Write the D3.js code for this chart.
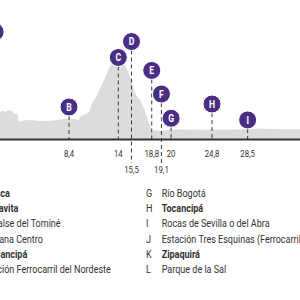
<!DOCTYPE html>
<html>
<head>
<meta charset="utf-8">
<script src="https://cdn.jsdelivr.net/npm/d3@7"></script>
<style>
  body { margin: 0; background: #fff; overflow: hidden; }
  svg { display: block; }
  text { font-family: "Roboto", "DejaVu Sans", sans-serif; }
</style>
</head>
<body>
<script>
// elevation profile: distance (km) and elevation (m)
var profileKm = [0, 0.56, 0.9, 1.13, 1.47, 1.92, 2.26, 2.49, 2.72, 3.06, 3.97, 5.1, 6.24, 7.38, 8.28, 8.97, 9.42,
  9.76, 10.22, 10.67, 11.01, 11.47, 11.92, 12.38, 12.83, 13.17, 13.51, 13.97, 14.53, 14.88, 15.33, 15.67,
  16.13, 16.47, 16.92, 17.38, 17.72, 17.83, 18.17, 18.74, 19.88, 21.01, 23.28, 25.56, 27.83, 30.1, 32.4, 34.65, 36];
var profileElev = [2740, 2742, 2750, 2742, 2754, 2747, 2726, 2733, 2672, 2679, 2684, 2677, 2679, 2689, 2693, 2691, 2684,
  2712, 2726, 2742, 2804, 2848, 2910, 2966, 3036, 3072, 3095, 3093, 3102, 3060, 2990, 2920,
  2850, 2826, 2762, 2684, 2625, 2601, 2613, 2606, 2616, 2620, 2616, 2618, 2620, 2623, 2620, 2620, 2620];

// points of interest along the route
var poiLetters = ["A", "B", "C", "D", "E", "F", "G", "H", "I"];
var poiKm = [0, 8.4, 14, 15.5, 17.8, 18.9, 20, 24.65, 28.7];
var poiTickLabels = ["0", "8,4", "14", "15,5", "18,8", "19,1", "20", "24,8", "28,5"];
var poiLowRow = [false, false, false, true, false, true, false, false, false];
var poiPinElev = [3309, 2777, 3128, 3241, 3036, 2869, 2697, 2798, 2685];

// legend
var legendLetters = ["A", "B", "C", "D", "E", "F", "G", "H", "I", "J", "K", "L"];
var legendNames = ["Guasca", "Guatavita", "Embalse del Tominé", "Toscana Centro", "Gachancipá",
  "Estación Ferrocarril del Nordeste", "Río Bogotá", "Tocancipá", "Rocas de Sevilla o del Abra",
  "Estación Tres Esquinas (Ferrocarril del Nordeste)", "Zipaquirá", "Parque de la Sal"];
var legendTowns = ["A", "B", "E", "H", "K"];

window.onload = () => {
  var width = 300, height = 300;
  var purple = "#4b2e83";

  var x = d3.scaleLinear().domain([0, 14]).range([-4.9, 118.3]);
  var y = d3.scaleLinear().domain([2550, 3110]).range([139, 60]);

  var svg = d3.select("body").append("svg")
    .attr("width", width)
    .attr("height", height);

  // the source font is a narrow grotesque: squeeze Roboto to the same width
  var probe = svg.append("text").style("font-size", "11px").text("Rocas de Sevilla o del Abra");
  var squeeze = 108 / probe.node().getComputedTextLength();
  probe.remove();

  var profile = profileKm.map(function (d, i) { return { km: d, elev: profileElev[i] }; });

  // gray elevation area
  var area = d3.area()
    .x(function (d) { return x(d.km); })
    .y0(y(2550))
    .y1(function (d) { return y(d.elev); })
    .curve(d3.curveMonotoneX);

  svg.append("path")
    .datum(profile)
    .attr("d", area)
    .attr("fill", "#dcdcdc");

  var pois = poiLetters.map(function (d, i) {
    return { letter: d, km: poiKm[i], label: poiTickLabels[i], low: poiLowRow[i], pin: poiPinElev[i] };
  });

  // dashed drop lines
  svg.selectAll(".drop")
    .data(pois)
    .enter()
    .append("line")
    .attr("class", "drop")
    .attr("x1", function (d) { return x(d.km); })
    .attr("x2", function (d) { return x(d.km); })
    .attr("y1", function (d) { return y(d.pin) + 9; })
    .attr("y2", function (d) { return d.low ? 163 : y(2550); })
    .attr("stroke", "#3a3a3a")
    .attr("stroke-width", 1)
    .attr("stroke-dasharray", "4,3");

  // axis baseline
  svg.append("line")
    .attr("x1", x(-1))
    .attr("x2", width)
    .attr("y1", y(2550) + 0.5)
    .attr("y2", y(2550) + 0.5)
    .attr("stroke", "#333")
    .attr("stroke-width", 2);

  // km labels
  svg.selectAll(".kmlabel")
    .data(pois)
    .enter()
    .append("text")
    .attr("class", "kmlabel")
    .attr("transform", function (d) {
      return "translate(" + x(d.km) + "," + (d.low ? 173 : 157) + ") scale(" + squeeze + ",1)";
    })
    .attr("text-anchor", "middle")
    .style("font-size", "9.5px")
    .style("fill", "#333")
    .text(function (d) { return d.label; });

  // pins
  var pin = svg.selectAll(".pin")
    .data(pois)
    .enter()
    .append("g")
    .attr("class", "pin")
    .attr("transform", function (d) { return "translate(" + x(d.km) + "," + y(d.pin) + ")"; });

  pin.append("circle")
    .attr("r", 9)
    .attr("fill", purple)
    .attr("stroke", "#fff")
    .attr("stroke-width", 1);

  pin.append("text")
    .attr("text-anchor", "middle")
    .attr("dy", "0.36em")
    .attr("transform", "scale(" + squeeze + ",1)")
    .style("font-size", "10.5px")
    .style("font-weight", "bold")
    .style("fill", "#fff")
    .text(function (d) { return d.letter; });

  // legend, two columns of six
  var legend = svg.selectAll(".legend")
    .data(legendLetters)
    .enter()
    .append("g")
    .attr("class", "legend")
    .attr("transform", function (d, i) {
      var col = Math.floor(i / 6), row = i % 6;
      return "translate(" + (-36 + col * 182) + "," + (197 + row * 15.2) + ")";
    });

  legend.append("text")
    .attr("transform", "scale(" + squeeze + ",1)")
    .style("font-size", "11px")
    .style("fill", "#333")
    .text(function (d) { return d; });

  legend.append("text")
    .attr("transform", "translate(15.7,0) scale(" + squeeze + ",1)")
    .style("font-size", "11px")
    .style("fill", "#333")
    .style("font-weight", function (d) { return legendTowns.indexOf(d) >= 0 ? "bold" : "normal"; })
    .text(function (d, i) { return legendNames[i]; });
};
</script>
</body>
</html>
